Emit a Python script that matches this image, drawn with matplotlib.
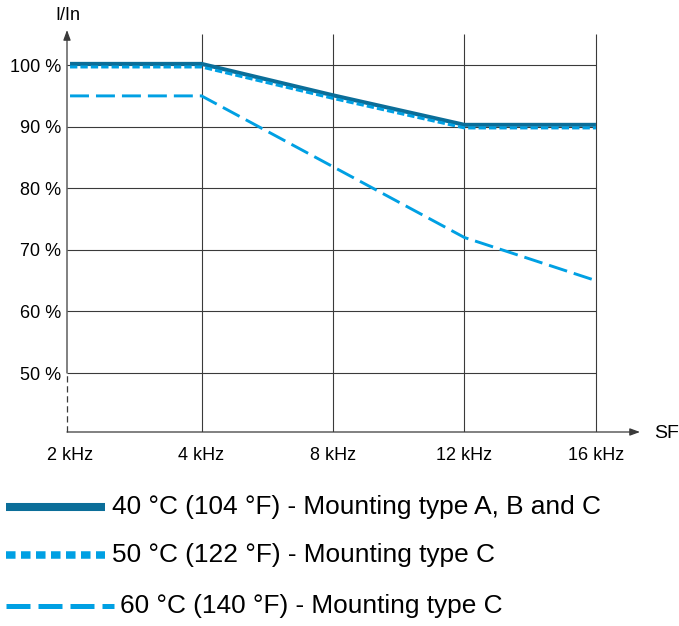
import matplotlib
matplotlib.use("Agg")
import matplotlib.pyplot as plt
from matplotlib.lines import Line2D

plt.rcParams["font.family"] = ["Liberation Sans", "DejaVu Sans"]

# data
freq_labels = ["2 kHz", "4 kHz", "8 kHz", "12 kHz", "16 kHz"]
curve_40 = [100.2, 100.2, 95.1, 90.3, 90.3]
curve_50 = [99.7, 99.7, 94.6, 89.8, 89.8]
curve_60 = [95.0, 95.0, 83.5, 72.0, 65.0]
y_ticks = [50, 60, 70, 80, 90, 100]
legend_labels = [
    "40 °C (104 °F) - Mounting type A, B and C",
    "50 °C (122 °F) - Mounting type C",
    "60 °C (140 °F) - Mounting type C",
]

dark = "#0b6e99"
light = "#00a0e3"
grid_c = "#3a3a3a"

W, H = 679, 626
fig = plt.figure(figsize=(W / 100, H / 100), dpi=100)
ax = fig.add_axes([67 / W, 1 - 432 / H, (640 - 67) / W, (432 - 30) / H])

x = list(range(len(freq_labels)))
ax.set_xlim(-0.023, 4.335)
ax.set_ylim(40.42, 105.7)

for s in ax.spines.values():
    s.set_visible(False)

# grid: horizontal lines up to last frequency, verticals up to ~105 %
ax.hlines(y_ticks, ax.get_xlim()[0], x[-1], color=grid_c, lw=0.8, zorder=1)
ax.vlines(x[1:], ax.get_ylim()[0], 105, color=grid_c, lw=0.8, zorder=1)

# axes with arrows
ax.annotate("", xy=(1, 0), xytext=(0, 0), xycoords="axes fraction",
            arrowprops=dict(arrowstyle="-|>,head_length=0.6,head_width=0.22",
                            color=grid_c, lw=0.9, shrinkA=0, shrinkB=0))
ytr = ax.get_yaxis_transform()
ax.annotate("", xy=(0, 105.7), xytext=(0, 50), xycoords=ytr,
            arrowprops=dict(arrowstyle="-|>,head_length=0.6,head_width=0.22",
                            color=grid_c, lw=0.9, shrinkA=0, shrinkB=0))
ax.plot([0, 0], [ax.get_ylim()[0], 50], transform=ytr, color=grid_c, lw=0.9,
        dashes=(5, 3), clip_on=False)


def fx(px):
    return px / W


def fy(py):
    return 1 - py / H


fig.text(fx(654), fy(433), "SF", fontsize=14, va="center", ha="left")
fig.text(fx(68), fy(15), "I/In", fontsize=13, va="center", ha="center")

# curves
ax.plot(x, curve_40, color=dark, lw=2.9, solid_capstyle="butt", zorder=3)
ax.plot(x, curve_50, color=light, lw=2.2, dashes=(2.4, 1.0), dash_capstyle="butt", zorder=4)
ax.plot(x, curve_60, color=light, lw=2.1, dashes=(6.5, 2.4), dash_capstyle="butt", zorder=4)

ax.set_xticks(x, freq_labels)
ax.set_yticks(y_ticks, [f"{v} %" for v in y_ticks])
ax.tick_params(length=0, labelsize=13)
ax.tick_params(axis="x", pad=11)
ax.tick_params(axis="y", pad=4)

# legend drawn below the chart
leg_rows = [
    (507, 105, 112, dict(color=dark, lw=5.8, solid_capstyle="butt")),
    (555, 105, 112, dict(color=light, lw=5.4, dashes=(1.27, 0.73), dash_capstyle="butt")),
    (606, 114, 120, dict(color=light, lw=3.6, dashes=(4.8, 1.6), dash_capstyle="butt")),
]
for (py, x_end, tx, style), label in zip(leg_rows, legend_labels):
    fig.add_artist(Line2D([fx(6), fx(x_end)], [fy(py), fy(py)],
                          transform=fig.transFigure, **style))
    fig.text(fx(tx), fy(py), label, fontsize=18.9, va="center", ha="left")

fig.savefig("out.png", dpi=100)
